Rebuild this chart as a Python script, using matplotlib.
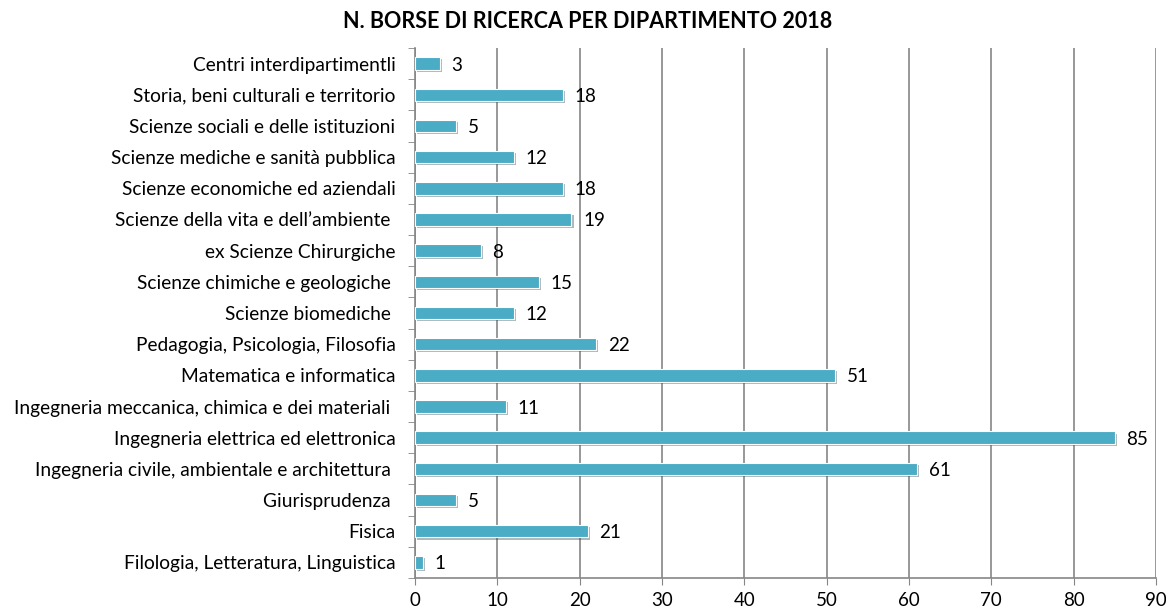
import matplotlib
matplotlib.use("Agg")
import matplotlib.pyplot as plt
import matplotlib.patheffects as pe

categories = [
    "Filologia, Letteratura, Linguistica",
    "Fisica",
    "Giurisprudenza ",
    "Ingegneria civile, ambientale e architettura ",
    "Ingegneria elettrica ed elettronica",
    "Ingegneria meccanica, chimica e dei materiali ",
    "Matematica e informatica",
    "Pedagogia, Psicologia, Filosofia",
    "Scienze biomediche ",
    "Scienze chimiche e geologiche ",
    "ex Scienze Chirurgiche",
    "Scienze della vita e dell\u2019ambiente ",
    "Scienze economiche ed aziendali",
    "Scienze mediche e sanit\u00e0 pubblica",
    "Scienze sociali e delle istituzioni",
    "Storia, beni culturali e territorio",
    "Centri interdipartimentli",
]
values = [1, 21, 5, 61, 85, 11, 51, 22, 12, 15, 8, 19, 18, 12, 5, 18, 3]
x_ticks = [0, 10, 20, 30, 40, 50, 60, 70, 80, 90]
title = "N. BORSE DI RICERCA PER DIPARTIMENTO 2018"

plt.rcParams['font.family'] = ['Lato', 'DejaVu Sans']

fig = plt.figure(figsize=(11.66, 6.12), dpi=100)
ax = fig.add_axes([415/1166, 34/612, 741/1166, 530/612])

ypos = list(range(len(categories)))
bars = ax.barh(ypos, values, height=0.4, color="#4BACC6", edgecolor="white",
               linewidth=0.8, zorder=3)
for b in bars:
    b.set_path_effects([pe.SimplePatchShadow(offset=(1.5, -1.5), alpha=0.35), pe.Normal()])

for y, v in zip(ypos, values):
    ax.text(v + 1.4, y, str(v), va="center_baseline", ha="left", fontsize=13.5,
            color="#000000", zorder=4)

ax.set_xlim(0, 90)
ax.set_ylim(-0.5, len(categories) - 0.5)
ax.set_xticks(x_ticks)
ax.set_xticklabels([str(t) for t in x_ticks], fontsize=13.5)
ax.set_yticks(ypos)
ax.set_yticklabels(categories, fontsize=13.8)
ax.set_yticks([i - 0.5 for i in range(len(categories) + 1)], minor=True)
ax.tick_params(axis="y", which="major", length=0, pad=14)
ax.tick_params(axis="y", which="minor", length=5, color="#868686", direction="out")
ax.tick_params(axis="x", length=5, color="#868686", direction="out", pad=5)

ax.grid(axis="x", color="#868686", linewidth=1.2, zorder=0)
for s in ["top", "right"]:
    ax.spines[s].set_visible(False)
ax.spines["left"].set_color("#868686")
ax.spines["bottom"].set_color("#868686")
ax.spines["left"].set_linewidth(1.2)
ax.spines["bottom"].set_linewidth(1.2)

fig.text(588/1166, 1 - 21/612, title, ha="center", va="center", fontsize=15.5,
         fontweight="bold")

fig.savefig("out.png", dpi=100)
